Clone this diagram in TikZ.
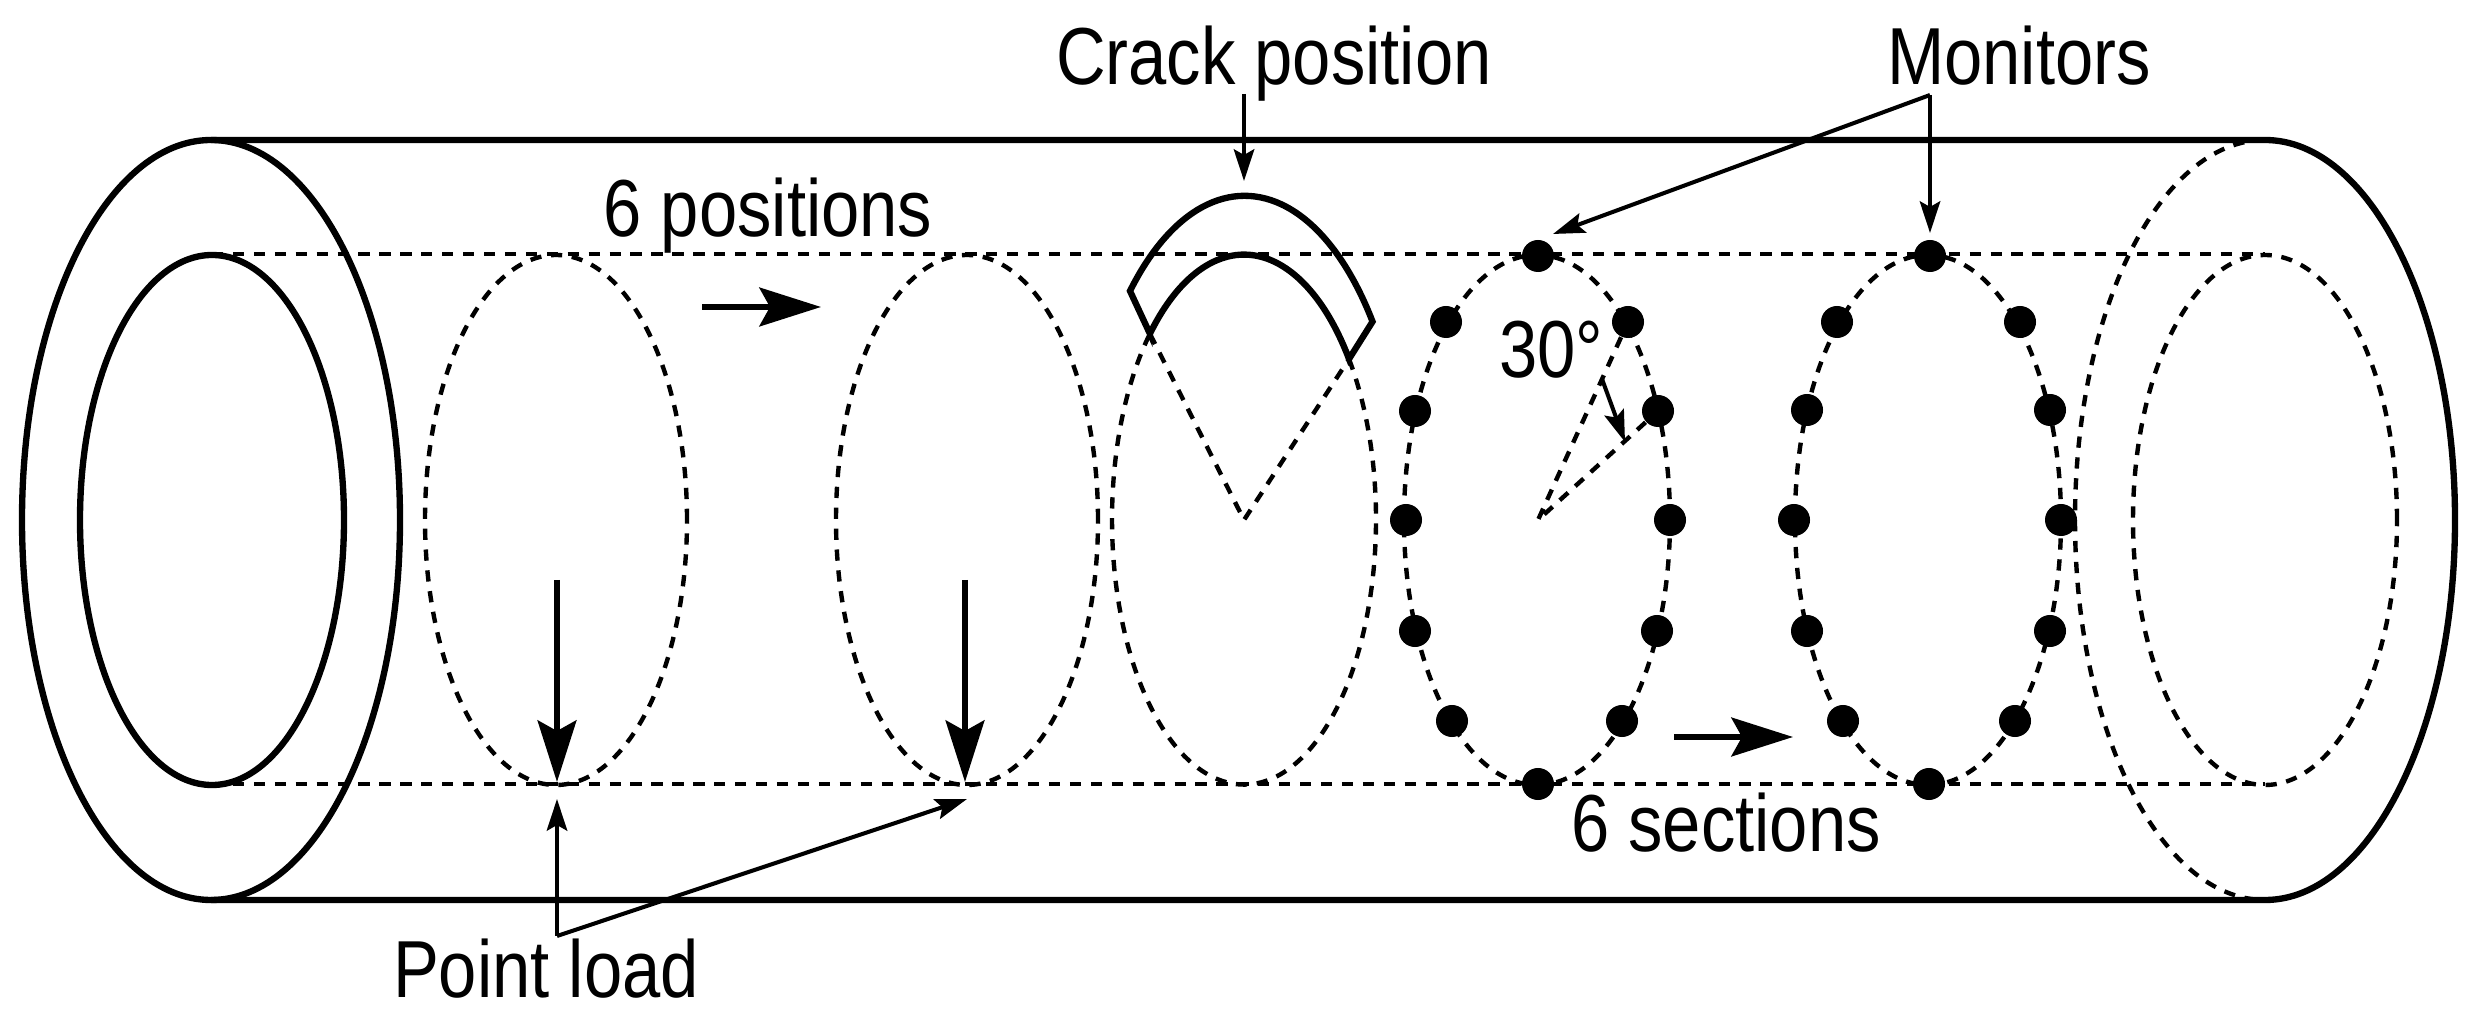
\documentclass[tikz,border=0pt]{standalone}
\usepackage{fontspec}
\setmainfont[FakeStretch=0.85]{Liberation Sans}
\usetikzlibrary{arrows.meta}
\begin{document}
\begin{tikzpicture}[x=0.01cm, y=0.01cm,
		tube/.style = {line width = 1.8pt},
		hidden/.style = {line width = 1.25pt, dash pattern = on 3.2pt off 2.75pt},
		leader/.style = {line width = 1.15pt, -{Stealth[length=9pt, width=5.8pt, inset=1.6pt]}},
		load/.style = {line width = 1.7pt, -{Stealth[length=17.5pt, width=11pt, inset=3pt]}},
		monitor/.style = {circle, fill, inner sep = 0pt, minimum size = 0.32cm},
		lbl/.style = {anchor = base, inner sep = 0pt, font = \fontsize{23}{27}\selectfont}]
			\useasboundingbox (0,0) rectangle (2475,1024);
			
			% tube
			\draw[tube] (211,504) ellipse [x radius = 189, y radius = 380];
			\draw[tube] (212,504) ellipse [x radius = 132, y radius = 265];
			\draw[tube] (211,884) -- (2265,884) arc [start angle = 90, end angle = -90, x radius = 190, y radius = 380] -- (211,124);
			\draw[hidden] (2265,884) arc [start angle = 90, end angle = 270, x radius = 190, y radius = 380];
			\draw[hidden] (2265,504) ellipse [x radius = 132, y radius = 265];
			\draw[hidden] (212,770) -- (2265,770);
			\draw[hidden] (212,240) -- (2265,240);
			
			% sections
			\draw[hidden] (556,504) ellipse [x radius = 131, y radius = 265];
			\draw[hidden] (967,504) ellipse [x radius = 131, y radius = 265];
			\draw[hidden] (1537,504) ellipse [x radius = 133, y radius = 265];
			\draw[hidden] (1928,504) ellipse [x radius = 133, y radius = 265];
			
			% crack
			\coordinate (k0) at (1244,504);
			\coordinate (k1) at (1150,690);
			\coordinate (k2) at (1349,665);
			\draw[hidden] (k2) arc [start angle = 37.3, end angle = -224.6, x radius = 132, y radius = 265];
			\draw[hidden] (k1) -- (k0) -- (k2);
			\draw[tube, line join = miter] (k1) -- (1130,733) arc [start angle = 135, end angle = 37.8, x radius = 162, y radius = 325] -- (k2) arc [start angle = 37.3, end angle = 135.4, x radius = 132, y radius = 265] -- cycle;
			
			% monitors
			\node[monitor] (a1) at (1538,768) {};
			\node[monitor] (a2) at (1628,702) {};
			\node[monitor] (a3) at (1658,613) {};
			\node[monitor] (a4) at (1670,504) {};
			\node[monitor] (a5) at (1657,393) {};
			\node[monitor] (a6) at (1622,303) {};
			\node[monitor] (a7) at (1538,240) {};
			\node[monitor] (a8) at (1452,303) {};
			\node[monitor] (a9) at (1415,393) {};
			\node[monitor] (a10) at (1406,504) {};
			\node[monitor] (a11) at (1415,613) {};
			\node[monitor] (a12) at (1446,702) {};
			
			\node[monitor] (b1) at (1930,768) {};
			\node[monitor] (b2) at (2020,702) {};
			\node[monitor] (b3) at (2050,614) {};
			\node[monitor] (b4) at (2061,504) {};
			\node[monitor] (b5) at (2050,393) {};
			\node[monitor] (b6) at (2015,303) {};
			\node[monitor] (b7) at (1929,240) {};
			\node[monitor] (b8) at (1843,303) {};
			\node[monitor] (b9) at (1807,393) {};
			\node[monitor] (b10) at (1794,504) {};
			\node[monitor] (b11) at (1807,614) {};
			\node[monitor] (b12) at (1837,702) {};
			
			% angle
			\coordinate (a0) at (1538,504);
			\draw[hidden] (a2) -- (a0) -- (a3);
			\node[lbl] (angle) at (1551,646) {30°};
			\coordinate (w1) at (1602,645);
			\coordinate (w2) at (1625,582);
			\draw[leader] (w1) -- (w2);
			
			% labels
			\node[lbl] (crack) at (1274,939) {Crack position};
			\node[lbl] (mon) at (2019,939) {Monitors};
			\node[lbl] (pos) at (768,787) {6 positions};
			\node[lbl] (sec) at (1726,172) {6 sections};
			\node[lbl] (pl) at (546,26) {Point load};
			
			% leaders
			\coordinate (c1) at (1244,930);
			\coordinate (c2) at (1244,843);
			\draw[leader] (c1) -- (c2);
			
			\coordinate (m0) at (1930,929);
			\coordinate (m1) at (1553,790);
			\coordinate (m2) at (1930,791);
			\draw[leader] (m0) -- (m1);
			\draw[leader] (m0) -- (m2);
			
			\coordinate (p0) at (557,88);
			\coordinate (p1) at (557,225);
			\coordinate (p2) at (967,225);
			\draw[leader] (p0) -- (p1);
			\draw[leader] (p0) -- (p2);
			
			% loads
			\coordinate (f1) at (557,444);
			\coordinate (f2) at (557,242);
			\coordinate (f3) at (965,444);
			\coordinate (f4) at (965,242);
			\draw[load] (f1) -- (f2);
			\draw[load] (f3) -- (f4);
			
			% moves
			\coordinate (d1) at (702,717);
			\coordinate (d2) at (821,717);
			\coordinate (d3) at (1674,287);
			\coordinate (d4) at (1793,287);
			\draw[load] (d1) -- (d2);
			\draw[load] (d3) -- (d4);
		\end{tikzpicture}
\end{document}
